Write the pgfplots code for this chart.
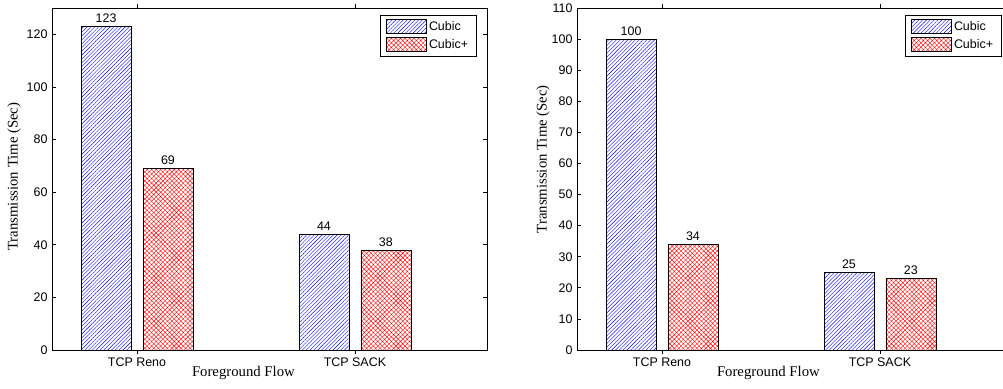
\documentclass[border=0pt]{standalone}
\usepackage{fontspec}
\setmainfont{Liberation Sans}
\newfontfamily\timesfont{Liberation Serif}
\usepackage{pgfplots}
\pgfplotsset{compat=1.18}
\usetikzlibrary{patterns.meta}

\pgfplotsset{
  mybar/.style={
    scale only axis, width=435bp, height=342bp,
    xmin=0.61, xmax=2.606, ymin=0,
    xtick={1,2}, xticklabels={TCP Reno, TCP SACK},
    tick align=inside, xtick pos=both, ytick pos=both,
    major tick length=4bp,
    axis line style={line width=0.8bp, black},
    every tick/.style={black, line width=0.8bp},
    ybar, bar width=0.229,
    tick label style={font=\fontsize{12.5}{14}\selectfont},
    yticklabel style={xshift=-1bp},
    /pgf/number format/assume math mode=true,
    xlabel={Foreground Flow},
    ylabel={Transmission Time (Sec)},
    every axis x label/.style={at={(axis description cs:0.44,0)}, anchor=base, yshift=-27bp,
      font=\timesfont\fontsize{14.8}{16}\selectfont},
    nodes near coords,
    nodes near coords style={font=\fontsize{12.5}{14}\selectfont, black},
    legend cell align=left,
    legend style={at={(1,1)}, anchor=north east, xshift=-10bp, yshift=-7bp,
      draw=black, line width=0.8bp, inner xsep=6.5bp, inner ysep=4bp, row sep=3.5bp,
      font=\fontsize{12.5}{14}\selectfont},
    legend image code/.code={\draw[#1, line width=0.6bp] (0bp,-7bp) rectangle (40bp,7bp);},
  },
  cubic/.style={draw=black, line width=0.6bp, bar shift=-0.142,
    pattern={Lines[angle=45, distance=2.7bp, line width=0.4bp]}, pattern color=blue},
  cubicp/.style={draw=black, line width=0.6bp, bar shift=0.142,
    pattern={Hatch[angle=45, distance=3.2bp, line width=0.4bp]}, pattern color=red},
}

\begin{document}
\begin{tikzpicture}
\path (0bp,0bp) rectangle (1003bp,389bp);
\begin{axis}[mybar, at={(52bp,39bp)}, anchor=south west,
  ymax=130, ytick={0,20,40,60,80,100,120},
  every axis y label/.style={at={(axis description cs:-0.0874,0.507)}, rotate=90, anchor=center,
    font=\timesfont\fontsize{14.8}{16}\selectfont}]
\addplot[cubic] coordinates {(1,123) (2,44)};
\addplot[cubicp] coordinates {(1,69) (2,38)};
\legend{Cubic, Cubic+}
\end{axis}
\begin{pgfinterruptboundingbox}
\begin{axis}[mybar, at={(577bp,39bp)}, anchor=south west,
  ymax=110, ytick={0,10,20,30,40,50,60,70,80,90,100,110},
  every axis y label/.style={at={(axis description cs:-0.0782,0.558)}, rotate=90, anchor=center,
    font=\timesfont\fontsize{14.8}{16}\selectfont}]
\addplot[cubic] coordinates {(1,100) (2,25)};
\addplot[cubicp] coordinates {(1,34) (2,23)};
\legend{Cubic, Cubic+}
\end{axis}
\end{pgfinterruptboundingbox}
\end{tikzpicture}
\end{document}
